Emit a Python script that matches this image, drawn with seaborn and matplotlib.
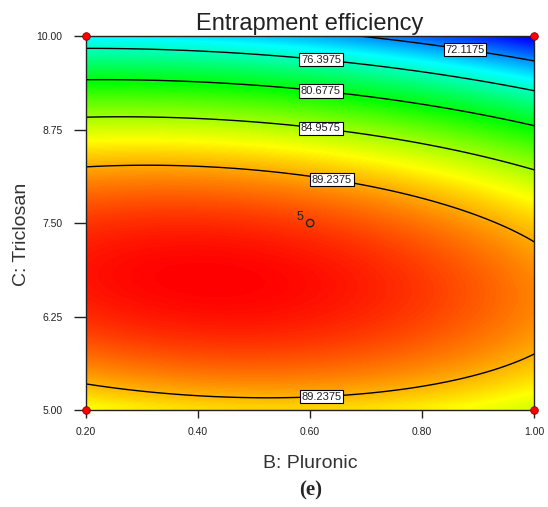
import numpy as np
import matplotlib
matplotlib.use("Agg")
import matplotlib.pyplot as plt
from matplotlib.colors import LinearSegmentedColormap
import seaborn as sns

# ---- data ----
title = "Entrapment efficiency"
x_label = "B: Pluronic"
y_label = "C: Triclosan"
x_ticks = [0.20, 0.40, 0.60, 0.80, 1.00]
y_ticks = [5.00, 6.25, 7.50, 8.75, 10.00]
contour_levels = [72.1175, 76.3975, 80.6775, 84.9575, 89.2375]
# fitted quadratic response-surface coefficients (coded units)
coef_terms = ["const", "B", "C", "BC", "B2", "C2"]
coef_values = [91.865, -1.857, -7.68, -1.36, -1.566, -11.3]
# design points
design_x = [0.20, 1.00, 0.20, 1.00]
design_y = [5.00, 5.00, 10.00, 10.00]
center_x = [0.60]
center_y = [7.50]
center_reps = ["5"]
# contour label anchors (x, y)
label_pos = [(0.877, 9.86), (0.62, 9.72), (0.62, 9.33), (0.62, 8.82),
             (0.64, 8.13), (0.62, 5.25)]

sns.set_style("ticks")
plt.rcParams['font.family'] = ['Liberation Sans', 'DejaVu Sans']

fig = plt.figure(figsize=(5.48, 5.07), dpi=100)
ax = fig.add_axes([0.157, 0.191, 0.818, 0.738])

xs = np.linspace(0.2, 1.0, 56)
ys = np.linspace(5.0, 10.0, 48)
X, Y = np.meshgrid(xs, ys)
U = (X - 0.6) / 0.4
V = (Y - 7.5) / 2.5
c = dict(zip(coef_terms, coef_values))
Z = (c["const"] + c["B"] * U + c["C"] * V + c["BC"] * U * V
     + c["B2"] * U ** 2 + c["C2"] * V ** 2)

cmap = LinearSegmentedColormap.from_list(
    "de", [(0, 0, 1), (0, 1, 1), (0, 1, 0), (1, 1, 0), (1, 0, 0)])
ax.imshow(Z, origin="lower", extent=[0.2, 1.0, 5.0, 10.0], aspect="auto",
          cmap=cmap, vmin=Z.min(), vmax=Z.max(), interpolation="bilinear")

xf = np.linspace(0.2, 1.0, 300)
yf = np.linspace(5.0, 10.0, 300)
XF, YF = np.meshgrid(xf, yf)
UF = (XF - 0.6) / 0.4
VF = (YF - 7.5) / 2.5
ZF = (c["const"] + c["B"] * UF + c["C"] * VF + c["BC"] * UF * VF
      + c["B2"] * UF ** 2 + c["C2"] * VF ** 2)
cs = ax.contour(XF, YF, ZF, levels=contour_levels, colors="black", linewidths=1.0)
labels = ax.clabel(cs, fmt="%.4f", inline=False, fontsize=8, manual=label_pos)
for t in labels:
    t.set_rotation(0)
    t.set_bbox(dict(boxstyle="square,pad=0.15", fc="white", ec="black", lw=0.8))
    t.set_color("#222222")

sns.scatterplot(x=design_x, y=design_y, ax=ax, color="red", edgecolor="#800000",
                s=30, linewidth=0.6, zorder=5, clip_on=False, legend=False)
ax.scatter(center_x, center_y, s=28, facecolors="none", edgecolors="#222222",
           linewidths=1.0, zorder=5)
ax.text(center_x[0] - 0.012, center_y[0] + 0.0, center_reps[0], ha="right",
        va="bottom", fontsize=9, color="#222222")

ax.set_xlim(0.2, 1.0)
ax.set_ylim(5.0, 10.0)
ax.set_xticks(x_ticks)
ax.set_xticklabels([f"{v:.2f}" for v in x_ticks])
ax.set_yticks(y_ticks)
ax.set_yticklabels([f"{v:.2f}" for v in y_ticks])
ax.tick_params(axis="x", length=6, width=1, labelsize=7.5, pad=6, colors="#222222")
ax.tick_params(axis="y", length=9, width=1, labelsize=7.5, pad=8, colors="#222222")
for s in ax.spines.values():
    s.set_linewidth(1.0)
    s.set_color("#222222")

ax.set_title(title, fontsize=17, pad=4, color="#222222")
ax.set_xlabel(x_label, fontsize=14, labelpad=13, color="#333333")
ax.set_ylabel(y_label, fontsize=14, labelpad=12, color="#333333")
ax.yaxis.set_label_coords(-0.125, 0.47)
fig.text(0.566, 0.033, "(e)", ha="center", va="center", fontsize=15,
         fontweight="bold", family="Liberation Serif")

fig.savefig("out.png", dpi=100, facecolor="white")
